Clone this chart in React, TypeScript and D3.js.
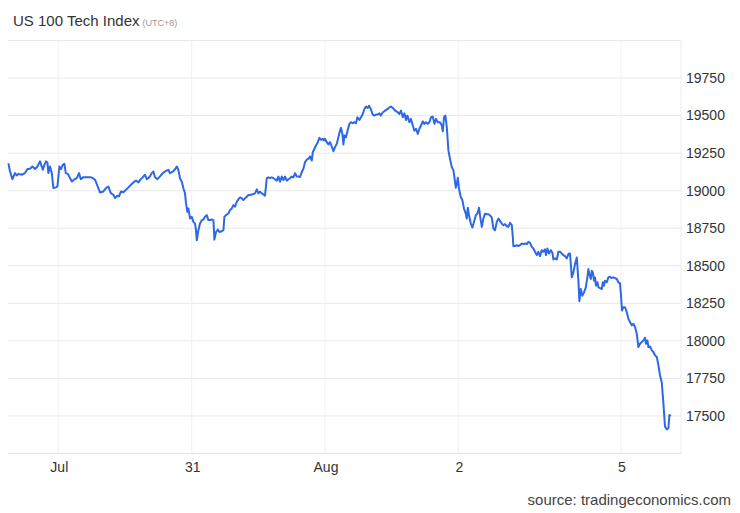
import React from "react";
import * as d3 from "d3";

// time position (sample index) and price readings
const times: number[] = [
  0.2, 1, 2.2, 3.5, 4.4, 5.2, 6.9, 8.5, 9.7, 11, 12.2, 13.5, 14.7, 16, 17.4, 18.2, 19, 19.7, 20.2, 21, 21.9, 22.7, 24, 24.7,
  25.7, 26.5, 27.4, 28.2, 28.9, 29.9, 31, 31.9, 33, 34.4, 35.5, 36.4, 37.7, 39.4, 41, 42.4, 43.5, 44.7, 46, 47.7, 49, 50.2,
  51.4, 52.7, 53.5, 54.7, 55.5, 56.5, 57.7, 59, 60.2, 61.5, 62.7, 64, 65.2, 66.4, 67.4, 68.5, 69.4, 70.7, 71.9, 72.7, 73.5,
  74.7, 76, 77.4, 78.5, 80.2, 81, 82.4, 83.5, 84.4, 85.2, 86, 86.9, 87.7, 88.5, 89, 89.7, 90.2, 91, 91.9, 92.7, 93.5, 94,
  94.4, 95.2, 96, 96.9, 97.7, 98.5, 99.4, 100.2, 101, 101.9, 102.7, 103.2, 104, 104.9, 105.7, 106.9, 107.7, 108.2, 109,
  110.2, 111, 111.9, 112.7, 113.5, 114.4, 115.2, 116, 116.9, 117.7, 118.5, 119.4, 120.2, 121, 121.9, 122.7, 123.5, 124.4,
  125.2, 126, 126.9, 127.7, 128.5, 129.4, 130.2, 131, 131.9, 132.7, 133.5, 134.4, 135.2, 136, 136.9, 137.7, 138.5, 139.4,
  140.2, 141, 141.9, 142.7, 143.5, 144.4, 145.2, 146, 146.9, 147.7, 148.5, 149.4, 150.2, 151, 151.9, 152.4, 153.2, 154,
  154.9, 155.7, 156.5, 157.4, 158, 158.5, 159.4, 160.2, 161, 161.9, 162.7, 163.5, 164.4, 165.2, 166, 166.5, 167.2, 167.7,
  168.2, 169, 169.9, 170.7, 171.5, 172.4, 173.2, 174, 174.7, 175.7, 176.5, 177.4, 178.2, 179, 179.9, 180.5, 181.4, 182.4,
  183.2, 184, 184.9, 185.7, 186.4, 187.4, 188.2, 189, 189.9, 190.7, 191.5, 192.4, 193.2, 194, 194.9, 195.7, 196.5, 197.4,
  198.2, 199, 199.7, 200.7, 201.5, 202.4, 203.2, 204, 204.9, 205.7, 206.5, 207.4, 208.2, 209, 209.9, 210.7, 211.5, 212.4,
  213.2, 214, 214.9, 216, 216.9, 217.4, 218, 218.7, 219.4, 220.2, 221, 221.9, 222.7, 223.2, 223.9, 224.4, 224.9, 225.5,
  226.4, 227.2, 228, 228.9, 229.4, 229.9, 230.5, 231.4, 232.2, 233, 233.9, 234.7, 235.5, 236, 236.9, 237.7, 238.5, 239.4,
  240.2, 241, 241.9, 242.7, 243.5, 244.4, 245.2, 246, 246.9, 247.7, 248.5, 249.4, 250.2, 251, 251.9, 252.4, 252.7, 253.5,
  254.4, 255.2, 256, 256.9, 257.7, 258.5, 259.4, 260.2, 261, 261.9, 262.7, 263.5, 264.4, 265.2, 266, 266.9, 267.7, 268.5,
  269, 269.7, 270.5, 271.4, 272.2, 272.7, 273.5, 274.4, 275.2, 276, 276.9, 277.7, 278.5, 279.4, 280.2, 281, 281.9, 282.7,
  283.5, 284.4, 285.2, 285.7, 286.4, 287.2, 288, 288.9, 289.7, 290.2, 290.7, 291.4, 291.9, 292.4, 293, 293.5, 294, 294.7,
  295.2, 296, 296.9, 297.4, 298, 298.5, 299.4, 300.2, 301, 301.9, 302.7, 303.5, 304.4, 305.2, 306, 306.5, 307, 307.7,
  308.5, 309.4, 310.2, 311, 311.9, 312.7, 313.5, 314.4, 315.2, 316, 316.9, 317.7, 318.5, 319, 319.7, 320.2, 321, 321.9,
  322.7, 323.5, 324.4, 325.2, 326, 326.9, 327.7, 328.5, 329.4, 330.2, 330.7, 331.4,
];

const prices: number[] = [
  19183, 19128, 19077, 19117, 19101, 19112, 19106, 19117, 19144, 19146, 19161, 19144, 19161, 19195, 19139, 19172, 19195,
  19188, 19117, 19161, 19117, 19017, 19022, 19028, 19161, 19144, 19172, 19179, 19117, 19112, 19084, 19061, 19073, 19084,
  19117, 19077, 19090, 19090, 19090, 19084, 19073, 19033, 18988, 18995, 19017, 19028, 18984, 18973, 18951, 18966, 18962,
  18995, 18990, 19006, 19022, 19039, 19055, 19068, 19055, 19077, 19090, 19106, 19077, 19090, 19117, 19128, 19090, 19077,
  19095, 19117, 19128, 19139, 19116, 19127, 19143, 19161, 19138, 19083, 19060, 19016, 18982, 18915, 18859, 18882, 18815,
  18826, 18792, 18781, 18737, 18670, 18737, 18781, 18804, 18808, 18826, 18837, 18804, 18804, 18808, 18804, 18674, 18725,
  18741, 18725, 18730, 18737, 18826, 18837, 18848, 18871, 18882, 18904, 18893, 18926, 18942, 18955, 18949, 18938, 18949,
  18960, 18971, 18971, 18975, 18978, 18982, 19009, 18982, 18993, 18982, 18975, 18967, 19083, 19089, 19083, 19089, 19083,
  19076, 19067, 19094, 19060, 19094, 19071, 19094, 19067, 19076, 19083, 19094, 19089, 19116, 19094, 19094, 19091, 19124,
  19146, 19190, 19206, 19212, 19228, 19201, 19257, 19279, 19301, 19323, 19352, 19339, 19345, 19334, 19345, 19323, 19308,
  19323, 19294, 19263, 19290, 19312, 19356, 19400, 19418, 19378, 19308, 19367, 19356, 19405, 19445, 19456, 19449, 19456,
  19449, 19489, 19471, 19489, 19511, 19544, 19560, 19551, 19566, 19544, 19507, 19500, 19507, 19507, 19515, 19500, 19522,
  19529, 19538, 19544, 19555, 19560, 19551, 19538, 19529, 19522, 19511, 19533, 19489, 19515, 19471, 19500, 19456, 19478,
  19434, 19400, 19412, 19378, 19412, 19434, 19462, 19445, 19456, 19445, 19456, 19489, 19493, 19445, 19478, 19456, 19456,
  19434, 19396, 19489, 19500, 19423, 19268, 19212, 19157, 19135, 19091, 19020, 19047, 19086, 19013, 18958, 18936, 18881,
  18847, 18814, 18887, 18836, 18781, 18755, 18792, 18836, 18847, 18887, 18836, 18759, 18814, 18847, 18843, 18843, 18836,
  18821, 18748, 18737, 18792, 18814, 18799, 18781, 18770, 18777, 18763, 18759, 18786, 18770, 18693, 18631, 18631, 18637,
  18631, 18637, 18648, 18644, 18648, 18644, 18659, 18653, 18626, 18615, 18593, 18571, 18593, 18564, 18604, 18593, 18609,
  18571, 18615, 18582, 18604, 18586, 18542, 18549, 18542, 18593, 18593, 18582, 18571, 18564, 18549, 18578, 18582, 18423,
  18456, 18511, 18555, 18401, 18264, 18345, 18301, 18323, 18356, 18423, 18478, 18445, 18412, 18467, 18456, 18401, 18423,
  18368, 18390, 18356, 18352, 18345, 18390, 18368, 18401, 18390, 18423, 18427, 18418, 18423, 18418, 18412, 18390, 18383,
  18301, 18202, 18224, 18224, 18191, 18147, 18125, 18103, 18114, 18092, 18047, 17959, 17981, 17992, 18003, 18021, 17981,
  18003, 17959, 17963, 17937, 17926, 17904, 17893, 17838, 17771, 17721, 17584, 17429, 17411, 17418, 17506, 17499,
];

const xTickLabels: string[] = ["Jul", "31", "Aug", "2", "5"];
const xTickTimes: number[] = [25.15, 91.85, 158.5, 225.15, 306.5];
const yTicks: number[] = [17500, 17750, 18000, 18250, 18500, 18750, 19000, 19250, 19500, 19750];
const yGrid: number[] = [...yTicks, 20000];

const W = 740;
const H = 513;
const left = 8;
const right = 681;
const top = 40.5;
const bottom = 453.5;

export default function App() {
  const x = d3.scaleLinear().domain([0, 336.5]).range([left, right]);
  const y = d3.scaleLinear().domain([17250, 20000]).range([bottom, top]);
  const pts = times.map((t, i) => [t, prices[i]] as [number, number]);
  const line = d3
    .line<[number, number]>()
    .x((d) => x(d[0]))
    .y((d) => y(d[1]))
    .curve(d3.curveLinear);
  const font = "Arial, 'Liberation Sans', Helvetica, sans-serif";

  return (
    <svg
      width={W}
      height={H}
      style={{ position: "absolute", left: 0, top: 0, background: "#fff", fontFamily: font }}
    >
      <rect x={0} y={0} width={W} height={H} fill="#fff" />
      {yGrid.map((v) => (
        <line key={"h" + v} x1={left} x2={right} y1={y(v)} y2={y(v)} stroke="#e8e8e8" strokeWidth={1} />
      ))}
      {xTickTimes.map((t, i) => (
        <line key={"v" + i} x1={x(t)} x2={x(t)} y1={top} y2={bottom} stroke="#f0f0f0" strokeWidth={1} />
      ))}
      <line x1={right} x2={right} y1={top} y2={bottom} stroke="#ececec" strokeWidth={1} />
      <line x1={left} x2={right} y1={bottom} y2={bottom} stroke="#e3e3e3" strokeWidth={1} />
      <path d={line(pts) || ""} fill="none" stroke="#2d68e6" strokeWidth={2} strokeLinejoin="round" />
      {yTicks.map((v) => (
        <text key={"yl" + v} x={686} y={y(v)} dy="0.35em" fontSize={14} fill="#333">
          {v}
        </text>
      ))}
      {xTickTimes.map((t, i) => (
        <text key={"xl" + i} x={x(t) + 1} y={472} textAnchor="middle" fontSize={14} fill="#333">
          {xTickLabels[i]}
        </text>
      ))}
      <text x={13} y={26} fontSize={15} fill="#333">
        US 100 Tech Index
        <tspan fontSize={9} fill="#999" dx={3}>
          (UTC+8)
        </tspan>
      </text>
      <text x={731} y={505} textAnchor="end" fontSize={15} fill="#444">
        source: tradingeconomics.com
      </text>
    </svg>
  );
}
